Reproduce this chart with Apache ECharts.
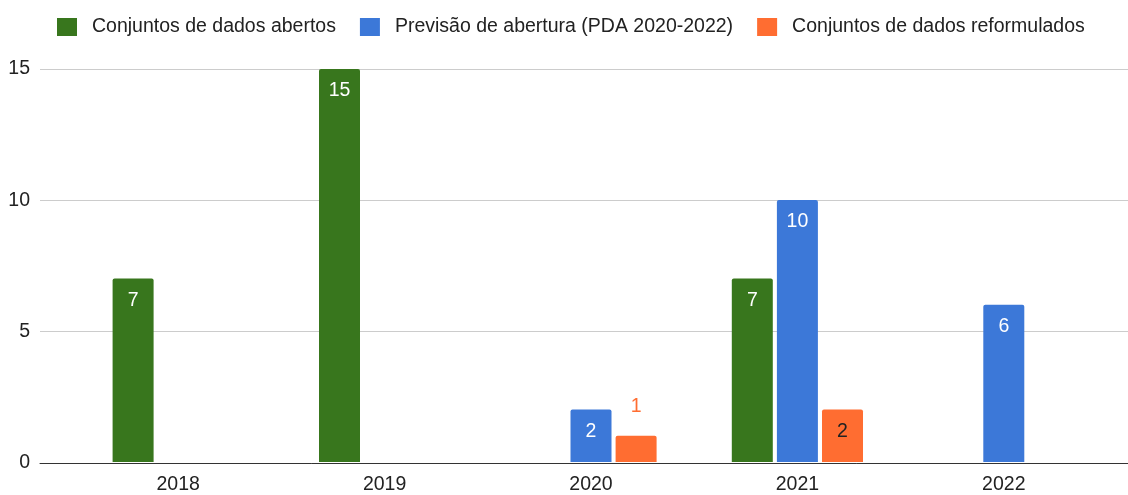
<!DOCTYPE html>
<html>
<head>
<meta charset="utf-8">
<script src="https://cdn.jsdelivr.net/npm/echarts@6/dist/echarts.min.js"></script>
<style>
  html, body { margin: 0; padding: 0; background: #fff; }
  #chart { width: 1128px; height: 495px; }
</style>
</head>
<body>
<div id="chart"></div>
<script>
// dados
const anos = ['2018', '2019', '2020', '2021', '2022'];
const abertos = [7, 15, null, 7, null];
const previsao = [null, null, 2, 10, 6];
const reformulados = [null, null, 1, 2, null];
const yTicks = [0, 5, 10, 15];

const verde = '#38761d';
const azul = '#3c78d8';
const laranja = '#ff6d31';
const fonte = '"Liberation Sans", Arial, sans-serif';
const tam = 19.5;

const chart = echarts.init(document.getElementById('chart'));

// rótulo dentro da barra; barra pequena -> rótulo acima
function rotulo(cor) {
  return {
    show: true,
    position: 'insideTop',
    distance: 12,
    color: cor,
    fontSize: tam,
    fontFamily: fonte
  };
}

const dadosReform = reformulados.map(function (v) {
  if (v === 1) {
    return { value: v, label: { position: 'top', distance: 19, color: laranja } };
  }
  return v;
});

const option = {
  animation: false,
  backgroundColor: '#fff',
  legend: {
    left: 57,
    top: 17,
    padding: 0,
    icon: 'rect',
    itemWidth: 20,
    itemHeight: 18,
    itemGap: 24,
    textStyle: { fontSize: tam, color: '#222', fontFamily: fonte, padding: [0, 0, 0, 10] },
    data: ['Conjuntos de dados abertos', 'Previsão de abertura (PDA 2020-2022)', 'Conjuntos de dados reformulados']
  },
  grid: [
    { left: 40, right: 0, top: 69, bottom: 32 },   // linhas de grade largas
    { left: 75, right: 21, top: 69, bottom: 32 }   // barras
  ],
  xAxis: [
    {
      gridIndex: 0, type: 'value', min: 0, max: 1,
      axisLine: { show: true, lineStyle: { color: '#333', width: 1 } },
      axisTick: { show: false }, axisLabel: { show: false }, splitLine: { show: false }
    },
    {
      gridIndex: 1, type: 'category', data: anos,
      axisLine: { show: false }, axisTick: { show: false },
      axisLabel: { fontSize: tam, color: '#222', fontFamily: fonte, margin: 13 }
    }
  ],
  yAxis: [
    {
      gridIndex: 0, type: 'value', min: yTicks[0], max: yTicks[yTicks.length - 1], interval: 5,
      axisLine: { show: false }, axisTick: { show: false },
      axisLabel: { fontSize: tam, color: '#222', fontFamily: fonte, margin: 10 },
      splitLine: { lineStyle: { color: '#cccccc', width: 1 } }
    },
    {
      gridIndex: 1, type: 'value', min: 0, max: 15, show: false,
      splitLine: { show: false }
    }
  ],
  series: [
    {
      name: 'Conjuntos de dados abertos', type: 'bar', xAxisIndex: 1, yAxisIndex: 1,
      data: abertos, barWidth: 41, barGap: '10%',
      itemStyle: { color: verde, borderRadius: [2, 2, 0, 0] },
      label: rotulo('#fff')
    },
    {
      name: 'Previsão de abertura (PDA 2020-2022)', type: 'bar', xAxisIndex: 1, yAxisIndex: 1,
      data: previsao, barWidth: 41, barGap: '10%',
      itemStyle: { color: azul, borderRadius: [2, 2, 0, 0] },
      label: rotulo('#fff')
    },
    {
      name: 'Conjuntos de dados reformulados', type: 'bar', xAxisIndex: 1, yAxisIndex: 1,
      data: dadosReform, barWidth: 41, barGap: '10%',
      itemStyle: { color: laranja, borderRadius: [2, 2, 0, 0] },
      label: rotulo('#222')
    }
  ]
};

chart.setOption(option);
</script>
</body>
</html>
